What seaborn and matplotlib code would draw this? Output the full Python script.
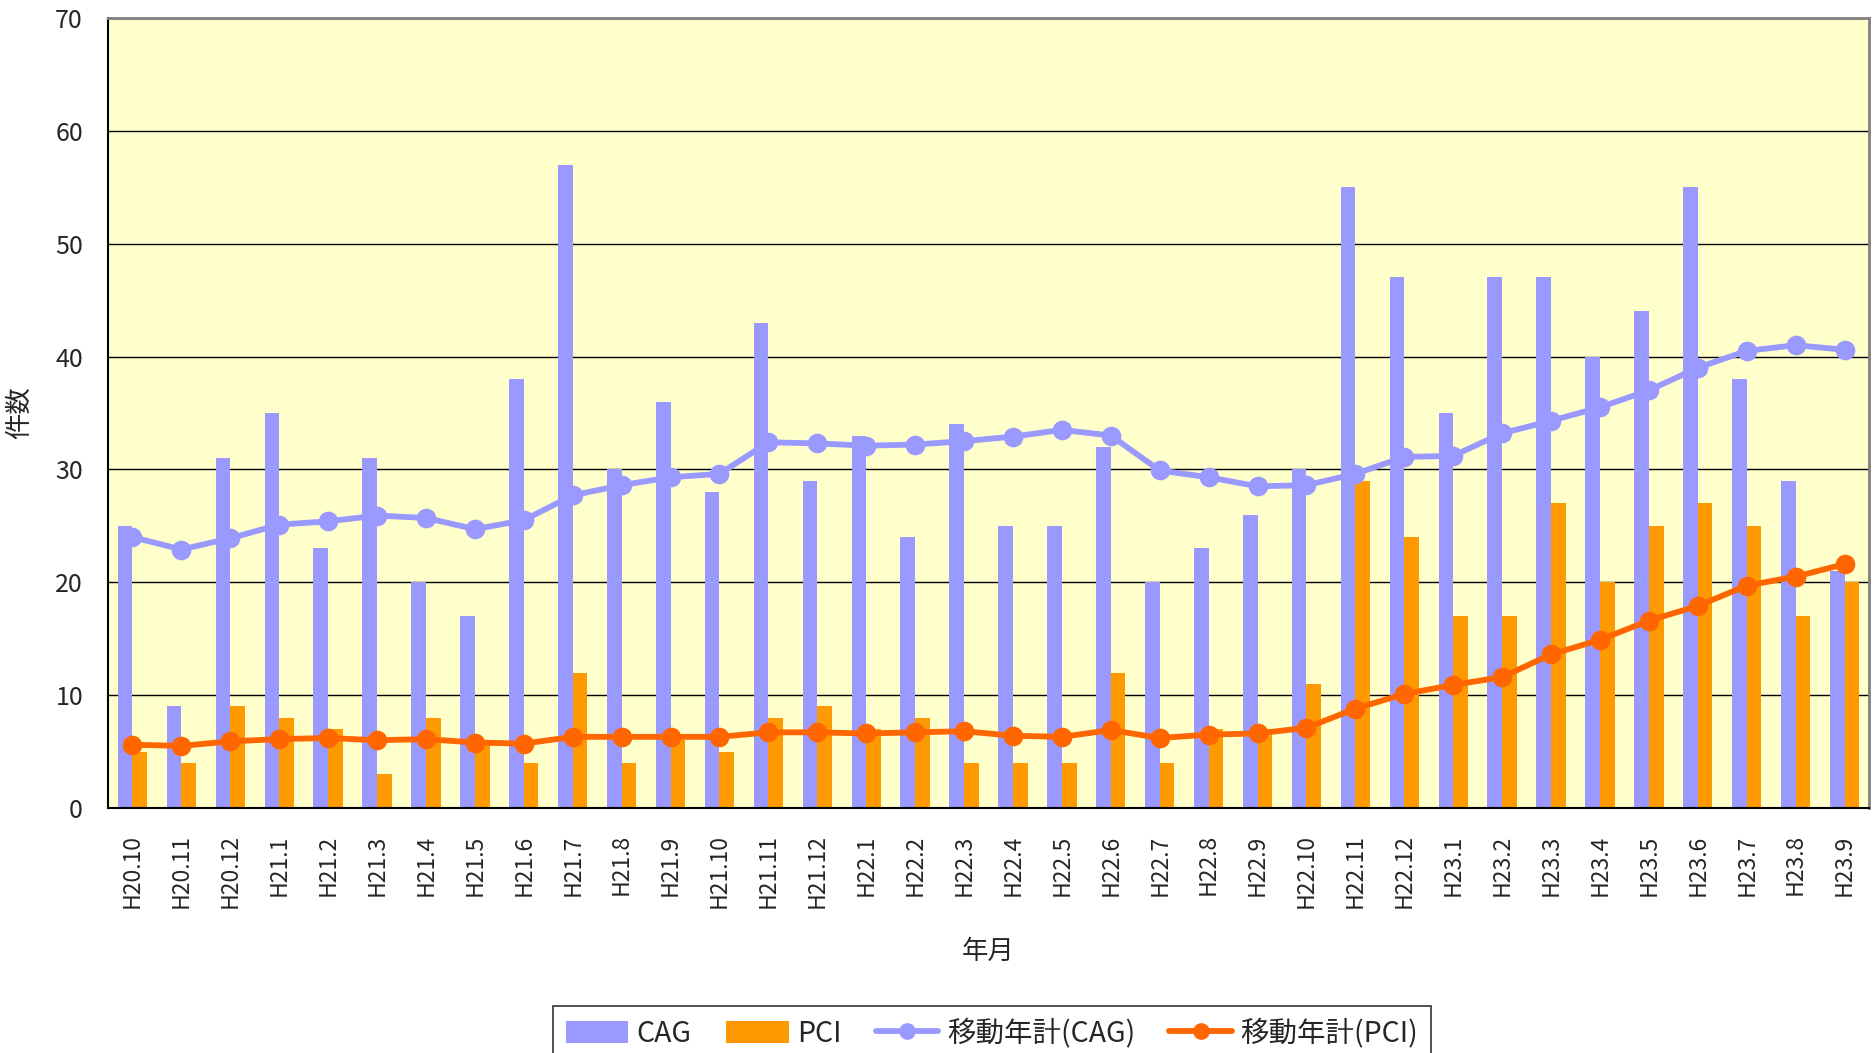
import numpy as np
import pandas as pd
import matplotlib
matplotlib.use("Agg")
import matplotlib.pyplot as plt
import seaborn as sns
from matplotlib.patches import Patch
from matplotlib.lines import Line2D
from matplotlib.ticker import FixedLocator

months = ["H20.10", "H20.11", "H20.12", "H21.1", "H21.2", "H21.3", "H21.4", "H21.5",
          "H21.6", "H21.7", "H21.8", "H21.9", "H21.10", "H21.11", "H21.12", "H22.1",
          "H22.2", "H22.3", "H22.4", "H22.5", "H22.6", "H22.7", "H22.8", "H22.9",
          "H22.10", "H22.11", "H22.12", "H23.1", "H23.2", "H23.3", "H23.4", "H23.5",
          "H23.6", "H23.7", "H23.8", "H23.9"]

cag = [25, 9, 31, 35, 23, 31, 20, 17, 38, 57, 30, 36, 28, 43, 29, 33,
       24, 34, 25, 25, 32, 20, 23, 26, 30, 55, 47, 35, 47, 47, 40, 44,
       55, 38, 29, 21]
pci = [5, 4, 9, 8, 7, 3, 8, 6, 4, 12, 4, 6, 5, 8, 9, 7,
       8, 4, 4, 4, 12, 4, 7, 7, 11, 29, 24, 17, 17, 27, 20, 25,
       27, 25, 17, 20]
ma_cag = [24.0, 22.9, 23.9, 25.1, 25.4, 25.9, 25.7, 24.7, 25.5, 27.7, 28.6, 29.3,
          29.6, 32.4, 32.3, 32.1, 32.2, 32.5, 32.9, 33.5, 33.0, 29.9, 29.3, 28.5,
          28.6, 29.6, 31.1, 31.2, 33.2, 34.3, 35.5, 37.0, 39.0, 40.5, 41.0, 40.6]
ma_pci = [5.6, 5.5, 5.9, 6.1, 6.2, 6.0, 6.1, 5.8, 5.7, 6.3, 6.3, 6.3,
          6.3, 6.7, 6.7, 6.6, 6.7, 6.8, 6.4, 6.3, 6.9, 6.2, 6.5, 6.6,
          7.1, 8.8, 10.1, 10.9, 11.6, 13.6, 14.9, 16.6, 17.9, 19.7, 20.5, 21.6]

series_names = ["CAG", "PCI", "移動年計(CAG)", "移動年計(PCI)"]
yticks = [0, 10, 20, 30, 40, 50, 60, 70]

c_cag = "#9999FF"
c_pci = "#FF9900"
c_ma_cag = "#9999FF"
c_ma_pci = "#FF6600"

sns.set_theme(style="white")
plt.rcParams["font.family"] = ["Noto Sans CJK JP", "DejaVu Sans"]

df = pd.DataFrame({
    "month": months * 2,
    "value": cag + pci,
    "kind": ["CAG"] * len(months) + ["PCI"] * len(months),
})

fig = plt.figure(figsize=(18.75, 10.53), dpi=100)
ax = fig.add_axes([0.0576, 0.2327, 0.9392, 0.7503])
ax.set_facecolor("#FFFFCC")

sns.barplot(data=df, x="month", y="value", hue="kind", order=months,
            hue_order=["CAG", "PCI"], palette=[c_cag, c_pci], saturation=1,
            width=0.6, dodge=True, errorbar=None, legend=False, ax=ax,
            linewidth=0, zorder=2)

sns.pointplot(x=months, y=ma_cag, order=months, color=c_ma_cag, markers="o",
              linestyles="-", errorbar=None, ax=ax, markersize=11, linewidth=4.2)
sns.pointplot(x=months, y=ma_pci, order=months, color=c_ma_pci, markers="o",
              linestyles="-", errorbar=None, ax=ax, markersize=11, linewidth=4.2)
for coll in ax.collections:
    coll.set_zorder(4)
for ln in ax.lines:
    ln.set_zorder(4)

ax.set_xlim(-0.5, len(months) - 0.5)
ax.set_ylim(0, 70)
ax.set_yticks(yticks)
ax.set_yticklabels([str(v) for v in yticks], fontsize=18)
ax.yaxis.grid(True, color="black", linewidth=1.0, zorder=1)
ax.set_axisbelow(True)

ax.set_xticks(range(len(months)))
ax.set_xticklabels(months, rotation=90, fontsize=16.5)
ax.xaxis.set_minor_locator(FixedLocator(np.arange(-0.5, len(months), 1.0)))
ax.tick_params(axis="x", which="major", length=0, pad=19)
ax.tick_params(axis="x", which="minor", length=6, direction="in", width=1.2, color="black")
ax.tick_params(axis="y", which="major", length=6, direction="in", width=1.2, color="black", pad=18)

for side in ["left", "bottom"]:
    ax.spines[side].set_color("black")
    ax.spines[side].set_linewidth(1.5)
for side in ["top", "right"]:
    ax.spines[side].set_color("#808080")
    ax.spines[side].set_linewidth(2.0)

ax.set_xlabel("年月", fontsize=19, labelpad=21)
ax.set_ylabel("件数", fontsize=19, labelpad=16)

handles = [
    Patch(facecolor=c_cag, edgecolor="none"),
    Patch(facecolor=c_pci, edgecolor="none"),
    Line2D([0], [0], color=c_ma_cag, lw=4.2, marker="o", markersize=11),
    Line2D([0], [0], color=c_ma_pci, lw=4.2, marker="o", markersize=11),
]
leg = fig.legend(handles, series_names, loc="lower center", bbox_to_anchor=(0.529, -0.008),
                 ncol=4, fontsize=20.5, frameon=True, fancybox=False, edgecolor="black",
                 handlelength=2.2, handleheight=0.8, columnspacing=1.2, handletextpad=0.3,
                 borderpad=0.45, borderaxespad=0.0)
leg.get_frame().set_linewidth(1.2)

fig.savefig("out.png", dpi=100)
